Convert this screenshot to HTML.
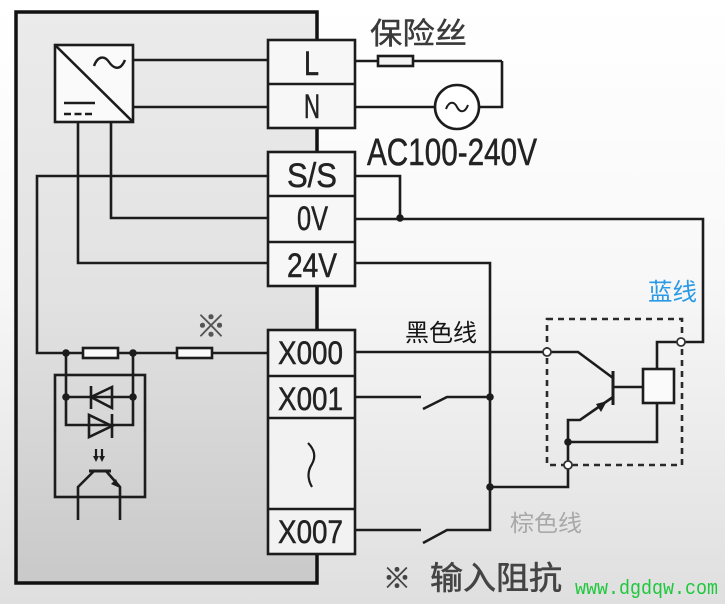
<!DOCTYPE html>
<html><head><meta charset="utf-8"><style>
html,body{margin:0;padding:0;width:725px;height:604px;overflow:hidden;background:#fff}
svg{display:block}
</style></head><body>
<svg width="725" height="604" viewBox="0 0 725 604" xmlns="http://www.w3.org/2000/svg">
<defs>
<linearGradient id="bg" x1="0" y1="0" x2="0" y2="1">
<stop offset="0" stop-color="#ffffff"/><stop offset="0.45" stop-color="#f8f8f8"/><stop offset="1" stop-color="#dfdfdf"/>
</linearGradient>
<linearGradient id="inbox" x1="0" y1="0" x2="0" y2="1">
<stop offset="0" stop-color="#ebebeb"/><stop offset="0.5" stop-color="#e2e2e2"/><stop offset="1" stop-color="#c9c9c9"/>
</linearGradient>
</defs>
<rect x="0" y="0" width="725" height="604" fill="url(#bg)"/>
<!-- PLC box -->
<rect x="16" y="12" width="301" height="571" fill="url(#inbox)" stroke="#111" stroke-width="3.5"/>

<g stroke="#1c1c1c" stroke-width="2.6" fill="none">
<!-- converter -->
<rect x="55" y="45" width="78" height="77" fill="#fafafa"/>
<line x1="55" y1="45" x2="133" y2="122"/>
<path d="M94 66 C98 55 105 56 109 62 S120 72 125 60" stroke-width="2.4"/>
<line x1="64" y1="103" x2="95" y2="103"/>
<line x1="64" y1="114" x2="95" y2="114" stroke-dasharray="7,3.5"/>
<!-- wires inside -->
<line x1="133" y1="60" x2="268" y2="60"/>
<line x1="133" y1="107" x2="268" y2="107"/>
<polyline points="111,122 111,218 268,218"/>
<polyline points="78,122 78,263 268,263"/>
<polyline points="268,176 37,176 37,353 268,353"/>
<!-- resistors -->
<rect x="83" y="348" width="35" height="10" fill="#fafafa"/>
<rect x="177" y="348" width="35" height="10" fill="#fafafa"/>
<!-- optocoupler -->
<rect x="55" y="375" width="90" height="122"/>
<polyline points="66,353 66,425 133,425 133,353"/>
<line x1="66" y1="397" x2="133" y2="397"/>
<polygon points="91,397 112,387 112,408" fill="none"/>
<line x1="91" y1="386" x2="91" y2="409"/>
<polygon points="112,426 89,415 89,437"/>
<line x1="112" y1="414" x2="112" y2="438"/>
<line x1="89" y1="471" x2="111" y2="471" stroke-width="3"/>
<polyline points="94,471 78,487 78,520"/>
<polyline points="106,471 120,487 120,520"/>
<line x1="96" y1="449" x2="96" y2="458" stroke-width="2.2"/>
<line x1="102" y1="449" x2="102" y2="458" stroke-width="2.2"/>
</g>
<g fill="#1c1c1c">
<polygon points="93,456 99,456 96,462"/>
<polygon points="99,456 105,456 102,462"/>
<polygon points="120,488 111,484 116,479"/>
<circle cx="66" cy="353" r="3.8"/><circle cx="133" cy="353" r="3.8"/>
<circle cx="66" cy="397" r="3.8"/><circle cx="133" cy="397" r="3.8"/>
</g>
<text x="211" y="337" font-family="'Liberation Sans', 'Noto Sans CJK SC', sans-serif" font-size="30" fill="#555" stroke="#555" stroke-width="0.6" text-anchor="middle">※</text>

<!-- external wiring -->
<g stroke="#1c1c1c" stroke-width="2.6" fill="none">
<line x1="355" y1="61" x2="378" y2="61"/>
<line x1="413" y1="61" x2="502" y2="61"/>
<rect x="378" y="56" width="35" height="10" fill="#f3f3f3"/>
<polyline points="502,61 502,107 479,107"/>
<line x1="355" y1="107" x2="435" y2="107"/>
<circle cx="457" cy="107" r="22" fill="#fff"/>
<path d="M446 109 C449 101 454 101 457 107 S465 113 468 105" stroke-width="2"/>
<polyline points="355,176 400,176 400,218"/>
<polyline points="355,219 703,219 703,342 657,342 657,369"/>
<polyline points="355,263 490,263 490,530 447,530 423,543"/>
<line x1="355" y1="530" x2="421" y2="530"/>
<polyline points="355,397 421,397"/>
<polyline points="423,409 447,397 490,397"/>
<polyline points="355,352 578,352 613,378"/>
<line x1="613" y1="371" x2="613" y2="405" stroke-width="3"/>
<line x1="613" y1="387" x2="643" y2="387"/>
<rect x="643" y="369" width="31" height="34" fill="#fafafa"/>
<polyline points="613,397 580,420 568,420 568,487 490,487"/>
<polyline points="568,442 657,442 657,403"/>
<rect x="547" y="319" width="135" height="146" stroke="#2a2a2a" stroke-dasharray="6,5"/>
</g>
<g fill="#1c1c1c">
<polygon points="607,401 596,404 601,412"/>
<circle cx="400" cy="218" r="3.8"/>
<circle cx="490" cy="397" r="3.8"/>
<circle cx="490" cy="487" r="3.8"/>
<circle cx="568" cy="442" r="3.8"/>
</g>
<g fill="#fff" stroke="#333" stroke-width="1.8">
<circle cx="547" cy="352" r="4"/>
<circle cx="681" cy="342" r="4"/>
<circle cx="568" cy="465" r="4"/>
</g>

<!-- terminal blocks -->
<g stroke="#1c1c1c" stroke-width="2.6" fill="#f7f7f7">
<rect x="268" y="40" width="87" height="88"/>
<line x1="268" y1="84" x2="355" y2="84"/>
<rect x="268" y="152" width="87" height="134"/>
<line x1="268" y1="196" x2="355" y2="196"/>
<line x1="268" y1="242" x2="355" y2="242"/>
<rect x="268" y="330" width="87" height="224" fill="#f2f2f2"/>
<line x1="268" y1="376" x2="355" y2="376"/>
<line x1="268" y1="418" x2="355" y2="418"/>
<line x1="268" y1="509" x2="355" y2="509"/>
<path d="M308 443 Q318 453 312 464 Q305 475 312 487" fill="none" stroke-width="2.2"/>
</g>
<g font-family="'Liberation Sans', sans-serif" font-size="34" fill="#222" stroke="#222" stroke-width="0.5">
<text x="304" y="75" textLength="15" lengthAdjust="spacingAndGlyphs">L</text>
<text x="304" y="118" textLength="16" lengthAdjust="spacingAndGlyphs">N</text>
<text x="287" y="187" textLength="50" lengthAdjust="spacingAndGlyphs">S/S</text>
<text x="297" y="230" textLength="31" lengthAdjust="spacingAndGlyphs">0V</text>
<text x="287" y="277" textLength="50" lengthAdjust="spacingAndGlyphs">24V</text>
<text x="278" y="364" font-size="32" textLength="65" lengthAdjust="spacingAndGlyphs">X000</text>
<text x="278" y="410" font-size="32" textLength="65" lengthAdjust="spacingAndGlyphs">X001</text>
<text x="278" y="543" font-size="32" textLength="65" lengthAdjust="spacingAndGlyphs">X007</text>
<text x="367" y="165" font-size="38" textLength="170" lengthAdjust="spacingAndGlyphs">AC100-240V</text>
</g>
<g font-family="'Liberation Sans','Noto Sans CJK SC',sans-serif">
<text x="370" y="44" font-size="30" fill="#3a3a3a" stroke="#3a3a3a" stroke-width="0.4" textLength="97" lengthAdjust="spacingAndGlyphs">保险丝</text>
<text x="405" y="341" font-size="24" fill="#151515" textLength="72" lengthAdjust="spacingAndGlyphs">黑色线</text>
<text x="648" y="300" font-size="24" fill="#2b9ae6" textLength="49" lengthAdjust="spacingAndGlyphs">蓝线</text>
<text x="510" y="531" font-size="23" fill="#a8a8a8" textLength="72" lengthAdjust="spacingAndGlyphs">棕色线</text>
<text x="383" y="588" font-size="28" fill="#444" stroke="#444" stroke-width="0.6" textLength="28" lengthAdjust="spacingAndGlyphs">※</text>
<text x="430" y="589" font-size="32" fill="#444" stroke="#444" stroke-width="0.6" textLength="132" lengthAdjust="spacingAndGlyphs">输入阻抗</text>
</g>
<text x="575" y="594" font-family="'Liberation Mono','Liberation Serif',monospace" font-size="20" fill="#1ec83c" textLength="143" lengthAdjust="spacingAndGlyphs">www.dgdqw.com</text>
</svg>
</body></html>
